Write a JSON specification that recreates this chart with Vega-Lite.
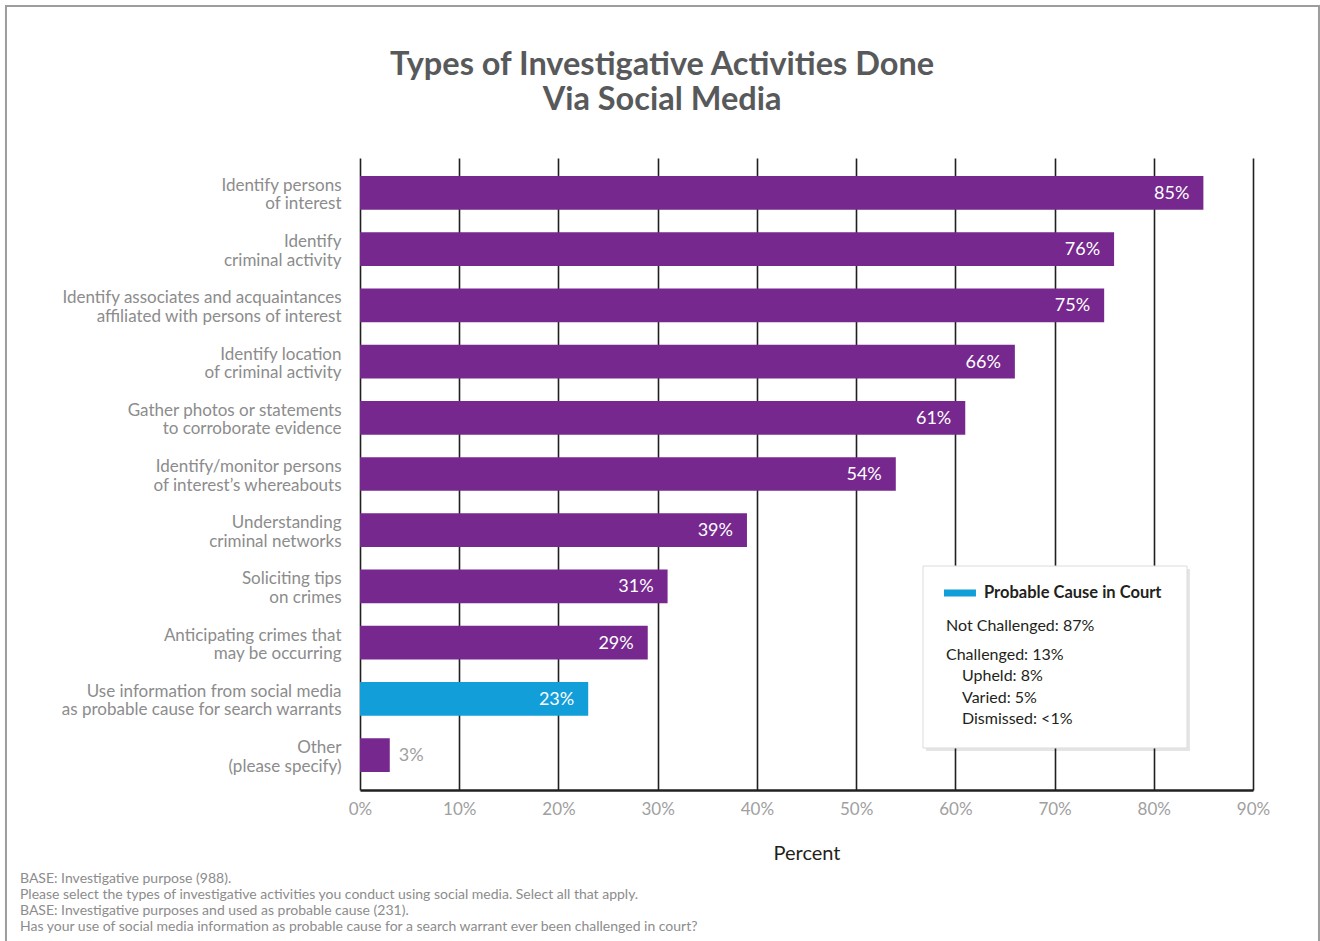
{
  "$schema": "https://vega.github.io/schema/vega-lite/v6.json",
  "width": 893,
  "height": 632,
  "autosize": "none",
  "padding": {"left": 360, "top": 158, "right": 67, "bottom": 151},
  "background": "white",
  "config": {"view": {"stroke": null}, "font": "Lato", "text": {"font": "Lato"}},
  "resolve": {"scale": {"x": "independent", "y": "independent"}, "axis": {"x": "independent", "y": "independent"}},
  "layer": [
    {
      "data": {"values": [
        {"activity": "Identify persons|of interest", "pct": 85, "label": "85%", "group": "activity"},
        {"activity": "Identify|criminal activity", "pct": 76, "label": "76%", "group": "activity"},
        {"activity": "Identify associates and acquaintances|affiliated with persons of interest", "pct": 75, "label": "75%", "group": "activity"},
        {"activity": "Identify location|of criminal activity", "pct": 66, "label": "66%", "group": "activity"},
        {"activity": "Gather photos or statements|to corroborate evidence", "pct": 61, "label": "61%", "group": "activity"},
        {"activity": "Identify/monitor persons|of interest’s whereabouts", "pct": 54, "label": "54%", "group": "activity"},
        {"activity": "Understanding|criminal networks", "pct": 39, "label": "39%", "group": "activity"},
        {"activity": "Soliciting tips|on crimes", "pct": 31, "label": "31%", "group": "activity"},
        {"activity": "Anticipating crimes that|may be occurring", "pct": 29, "label": "29%", "group": "activity"},
        {"activity": "Use information from social media|as probable cause for search warrants", "pct": 23, "label": "23%", "group": "probable"},
        {"activity": "Other|(please specify)", "pct": 3, "label": "3%", "group": "activity"}
      ]},
      "encoding": {
        "y": {
          "field": "activity", "type": "nominal", "sort": null,
          "scale": {"paddingInner": 0.4, "paddingOuter": 0.32},
          "axis": {
            "title": null, "domain": false, "ticks": false,
            "labelExpr": "split(datum.label, '|')",
            "labelFont": "Lato", "labelFontSize": 17, "labelColor": "#8c8c8c",
            "labelPadding": 19, "labelLineHeight": 18.5, "labelLimit": 400, "labelOffset": -7
          }
        },
        "x": {
          "field": "pct", "type": "quantitative",
          "scale": {"domain": [0, 90], "nice": false},
          "axis": {
            "values": [0, 10, 20, 30, 40, 50, 60, 70, 80, 90],
            "labelExpr": "datum.value + '%'",
            "labelFlush": false,
            "title": "Percent",
            "grid": true, "gridColor": "#231f20", "gridWidth": 1.6, "gridOpacity": 1,
            "ticks": false, "domainColor": "#231f20", "domainWidth": 2.5,
            "labelFont": "Lato", "labelFontSize": 17, "labelColor": "#a0a0a0", "labelPadding": 11,
            "titleFont": "Lato", "titleFontSize": 20, "titleFontWeight": "normal", "titleColor": "#231f20", "titlePadding": 26
          }
        }
      },
      "layer": [
        {
          "mark": {"type": "bar"},
          "encoding": {
            "color": {"field": "group", "type": "nominal", "scale": {"domain": ["activity", "probable"], "range": ["#76288e", "#129ed9"]}, "legend": null}
          }
        },
        {
          "transform": [{"filter": "datum.pct >= 10"}],
          "mark": {"type": "text", "align": "right", "baseline": "middle", "dx": -14, "dy": 1, "fontSize": 18, "color": "white", "font": "Lato"},
          "encoding": {"text": {"field": "label"}}
        },
        {
          "transform": [{"filter": "datum.pct < 10"}],
          "mark": {"type": "text", "align": "left", "baseline": "middle", "dx": 9, "dy": 1, "fontSize": 18, "color": "#a0a0a0", "font": "Lato"},
          "encoding": {"text": {"field": "label"}}
        }
      ]
    },
    {
      "data": {"values": [{}]},
      "layer": [
        {
          "mark": {"type": "rect", "fill": "transparent", "stroke": "#9d9d9d", "strokeWidth": 2},
          "encoding": {
            "x": {"datum": -35.68, "type": "quantitative", "scale": {"domain": [0, 90], "nice": false, "zero": false}, "axis": null},
            "x2": {"datum": 96.65},
            "y": {"datum": -2.70, "type": "quantitative", "scale": {"domain": [0, 11.225], "nice": false, "zero": false, "reverse": true}, "axis": null},
            "y2": {"datum": 14.5}
          }
        },
        {
          "mark": {"type": "text", "align": "center", "baseline": "alphabetic", "fontSize": 32.5, "lineHeight": 35, "fontWeight": "bold", "color": "#58595b", "font": "Lato",
            "text": ["Types of Investigative Activities Done", "Via Social Media"]},
          "encoding": {
            "x": {"datum": 30.44, "type": "quantitative"},
            "y": {"datum": -1.474, "type": "quantitative"}
          }
        },
        {
          "mark": {"type": "rect", "fill": "#000000", "opacity": 0.1},
          "encoding": {
            "x": {"datum": 57.04, "type": "quantitative"},
            "x2": {"datum": 83.65},
            "y": {"datum": 7.30, "type": "quantitative"},
            "y2": {"datum": 10.533}
          }
        },
        {
          "mark": {"type": "rect", "fill": "white", "stroke": "#dcdcdc", "strokeWidth": 1},
          "encoding": {
            "x": {"datum": 56.74, "type": "quantitative"},
            "x2": {"datum": 83.35},
            "y": {"datum": 7.247, "type": "quantitative"},
            "y2": {"datum": 10.479}
          }
        },
        {
          "mark": {"type": "rule", "color": "#129ed9", "strokeWidth": 7, "strokeCap": "butt"},
          "encoding": {
            "x": {"datum": 58.86, "type": "quantitative"},
            "x2": {"datum": 62.08},
            "y": {"datum": 7.726, "type": "quantitative"}
          }
        },
        {
          "mark": {"type": "text", "align": "left", "baseline": "middle", "fontSize": 16.5, "fontWeight": "bold", "color": "#231f20", "font": "Lato", "text": "Probable Cause in Court"},
          "encoding": {
            "x": {"datum": 62.89, "type": "quantitative"},
            "y": {"datum": 7.726, "type": "quantitative"}
          }
        },
        {
          "mark": {"type": "text", "align": "left", "baseline": "middle", "fontSize": 16, "color": "#231f20", "font": "Lato", "text": "Not Challenged: 87%"},
          "encoding": {
            "x": {"datum": 59.06, "type": "quantitative"},
            "y": {"datum": 8.312, "type": "quantitative"}
          }
        },
        {
          "mark": {"type": "text", "align": "left", "baseline": "middle", "fontSize": 16, "color": "#231f20", "font": "Lato", "text": "Challenged: 13%"},
          "encoding": {
            "x": {"datum": 59.06, "type": "quantitative"},
            "y": {"datum": 8.828, "type": "quantitative"}
          }
        },
        {
          "mark": {"type": "text", "align": "left", "baseline": "middle", "fontSize": 16, "color": "#231f20", "font": "Lato", "text": "Upheld: 8%"},
          "encoding": {
            "x": {"datum": 60.67, "type": "quantitative"},
            "y": {"datum": 9.201, "type": "quantitative"}
          }
        },
        {
          "mark": {"type": "text", "align": "left", "baseline": "middle", "fontSize": 16, "color": "#231f20", "font": "Lato", "text": "Varied: 5%"},
          "encoding": {
            "x": {"datum": 60.67, "type": "quantitative"},
            "y": {"datum": 9.591, "type": "quantitative"}
          }
        },
        {
          "mark": {"type": "text", "align": "left", "baseline": "middle", "fontSize": 16, "color": "#231f20", "font": "Lato", "text": "Dismissed: <1%"},
          "encoding": {
            "x": {"datum": 60.67, "type": "quantitative"},
            "y": {"datum": 9.964, "type": "quantitative"}
          }
        },
        {
          "mark": {"type": "text", "align": "left", "baseline": "middle", "fontSize": 14, "lineHeight": 16, "color": "#8c8c8c", "font": "Lato",
            "text": ["BASE: Investigative purpose (988).", "Please select the types of investigative activities you conduct using social media. Select all that apply.", "BASE: Investigative purposes and used as probable cause (231).", "Has your use of social media information as probable cause for a search warrant ever been challenged in court?"]},
          "encoding": {
            "x": {"datum": -34.27, "type": "quantitative"},
            "y": {"datum": 12.806, "type": "quantitative"}
          }
        }
      ]
    }
  ]
}
